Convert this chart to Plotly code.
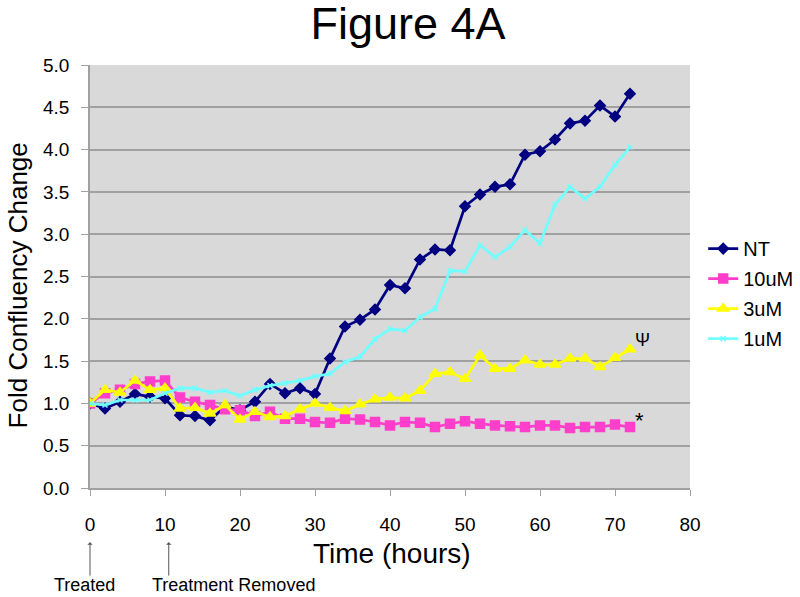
import plotly.graph_objects as go

# time points (hours), one reading every 2 h
hours = list(range(0, 74, 2))

nt = [1.00, 0.94, 1.02, 1.11, 1.08, 1.06, 0.86, 0.85, 0.80, 0.96, 0.92, 1.02, 1.23,
      1.12, 1.18, 1.11, 1.53, 1.91, 1.99, 2.11, 2.40, 2.36, 2.70, 2.82, 2.81, 3.33,
      3.47, 3.56, 3.59, 3.94, 3.98, 4.12, 4.31, 4.34, 4.52, 4.39, 4.66]
um10 = [1.00, 1.12, 1.16, 1.23, 1.26, 1.27, 1.07, 1.02, 0.98, 0.93, 0.92, 0.85, 0.90,
        0.82, 0.82, 0.78, 0.77, 0.82, 0.81, 0.78, 0.74, 0.78, 0.77, 0.72, 0.76, 0.79,
        0.76, 0.74, 0.73, 0.72, 0.74, 0.74, 0.71, 0.72, 0.72, 0.75, 0.72]
um3 = [1.00, 1.16, 1.13, 1.27, 1.16, 1.18, 0.94, 0.95, 0.88, 0.98, 0.81, 0.90, 0.84,
       0.85, 0.93, 1.00, 0.95, 0.91, 0.99, 1.05, 1.07, 1.06, 1.15, 1.35, 1.37, 1.29,
       1.57, 1.41, 1.41, 1.51, 1.46, 1.46, 1.53, 1.53, 1.43, 1.54, 1.64]
um1 = [1.00, 0.98, 1.04, 1.04, 1.04, 1.12, 1.18, 1.18, 1.13, 1.15, 1.09, 1.16, 1.21,
       1.24, 1.27, 1.32, 1.35, 1.49, 1.55, 1.76, 1.88, 1.86, 2.02, 2.12, 2.57, 2.56,
       2.87, 2.73, 2.85, 3.05, 2.89, 3.35, 3.56, 3.42, 3.56, 3.82, 4.03]

series = [
    ("NT", nt, "#000080", "diamond", 8),
    ("10uM", um10, "#FF3FCC", "square", 9),
    ("3uM", um3, "#FFFF00", "triangle-up", 10),
    ("1uM", um1, "#6FFFFF", "x-thin-open", 5),
]

FONT = "Arial, Liberation Sans, sans-serif"

fig = go.Figure()
for name, vals, color, sym, size in series:
    fig.add_trace(go.Scatter(
        x=hours, y=vals, name=name, mode="lines+markers",
        legendgroup=name,
        line=dict(color=color, width=2.7),
        marker=dict(symbol=sym, size=size, color=color,
                    line=dict(color=color, width=1.5)),
    ))

fig.update_layout(
    width=800, height=597,
    margin=dict(l=90, r=110, t=65, b=109, autoexpand=False),
    paper_bgcolor="white",
    plot_bgcolor="#D9D9D9",
    font=dict(family=FONT, color="black", size=19),
    title=dict(text="Figure 4A", x=0.51, xanchor="center",
               y=0.961, yanchor="middle", font=dict(size=45)),
    showlegend=True,
    legend=dict(x=1.022, xanchor="left", y=0.612, yanchor="top",
                font=dict(size=20), bgcolor="rgba(0,0,0,0)",
                traceorder="grouped", tracegroupgap=1),
)

fig.update_xaxes(
    range=[0, 80], dtick=10, showgrid=False, zeroline=False,
    showline=True, linecolor="#A0A0A0", linewidth=1.5,
    ticks="outside", ticklen=6, tickcolor="#A0A0A0",
    ticklabelstandoff=12,
)
fig.update_yaxes(
    range=[0, 5], dtick=0.5, tickformat=".1f", zeroline=False,
    showgrid=True, gridcolor="#A0A0A0", gridwidth=1.5,
    showline=True, linecolor="#A0A0A0", linewidth=1.5,
    ticks="outside", ticklen=7, tickcolor="#A0A0A0",
    ticklabelstandoff=8,
)

# axis titles
fig.add_annotation(text="Time (hours)", xref="paper", yref="paper",
                   x=0.503, y=-0.154, showarrow=False, font=dict(size=28),
                   xanchor="center", yanchor="middle")
fig.add_annotation(text="Fold Confluency Change", xref="paper", yref="paper",
                   x=-0.12, y=0.479, showarrow=False, font=dict(size=26),
                   textangle=-90, xanchor="center", yanchor="middle")

# significance marks
fig.add_annotation(text="Ψ", x=73.6, y=1.75, showarrow=False,
                   font=dict(size=18))
fig.add_annotation(text="*", x=73.3, y=0.80, showarrow=False,
                   font=dict(size=22))

# event arrows (treatment start / removal)
for xa in [0, 10.5]:
    fig.add_annotation(text="", x=xa, y=-0.128, xref="x", yref="paper",
                       showarrow=True, ax=0, ay=35, arrowhead=1,
                       arrowsize=0.9, arrowwidth=1, arrowcolor="#555555")
fig.add_annotation(text="Treated", x=-0.01, y=-0.229, xref="paper", yref="paper",
                   showarrow=False, font=dict(size=18),
                   xanchor="center", yanchor="middle")
fig.add_annotation(text="Treatment Removed", x=0.1, y=-0.229, xref="paper",
                   yref="paper", showarrow=False, font=dict(size=18),
                   xanchor="left", yanchor="middle")

# page has a default body margin; drop it so the figure sits at the corner
fig.write_html("out.html", config={"displayModeBar": False},
               post_script="document.body.style.margin='0px';")
